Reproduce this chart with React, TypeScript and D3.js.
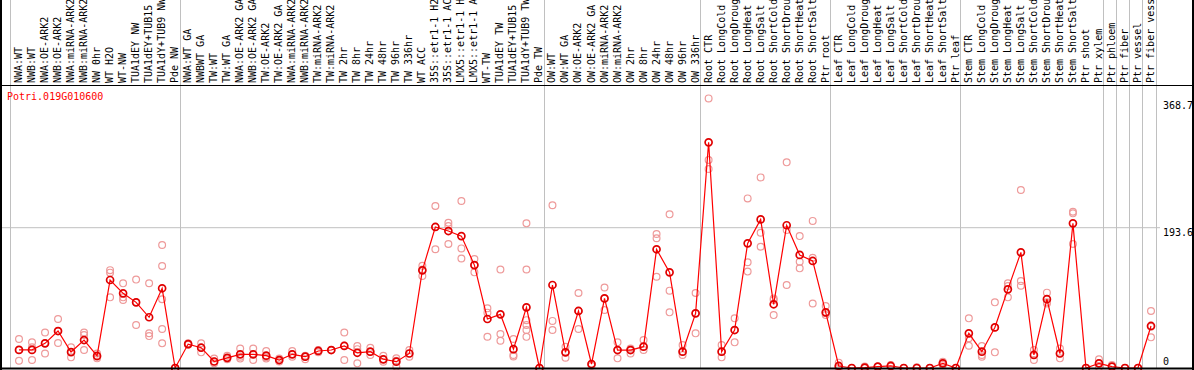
import React from "react";
import * as d3 from "d3";

const title = "Potri.019G010600";

const labels: string[] = [
  "NWA:WT", "NWB:WT", "NWA:OE-ARK2", "NWB:OE-ARK2", "NWA:miRNA-ARK2", "NWB:miRNA-ARK2", "NW 0hr", "WT H2O", "WT-NW", "TUA1dEY NW", "TUA1dEY+TUB15 NW", "TUA1dY+TUB9 NW", "Pde NW",
  "NWA:WT GA", "NWBWT GA", "TW:WT", "TW:WT GA", "NWA:OE-ARK2 GA", "NWB:OE-ARK2 GA", "TW:OE-ARK2", "TW:OE-ARK2 GA", "NWA:miRNA-ARK2", "NWB:miRNA-ARK2", "TW:miRNA-ARK2", "TW:miRNA-ARK2", "TW 2hr", "TW 8hr", "TW 24hr", "TW 48hr", "TW 96hr", "TW 336hr", "WT ACC", "35S::etr1-1 H2O", "35S::etr1-1 ACC", "LMX5::etr1-1 H2O", "LMX5::etr1-1 ACC", "WT-TW", "TUA1dEY TW", "TUA1dEY+TUB15 TW", "TUA1dY+TUB9 TW", "Pde TW",
  "OW:WT", "OW:WT GA", "OW:OE-ARK2", "OW:OE-ARK2 GA", "OW:miRNA-ARK2", "OW:miRNA-ARK2", "OW 2hr", "OW 8hr", "OW 24hr", "OW 48hr", "OW 96hr", "OW 336hr",
  "Root CTR", "Root LongCold", "Root LongDrought", "Root LongHeat", "Root LongSalt", "Root ShortCold", "Root ShortDrought", "Root ShortHeat", "Root ShortSalt", "Ptr root",
  "Leaf CTR", "Leaf LongCold", "Leaf LongDrought", "Leaf LongHeat", "Leaf LongSalt", "Leaf ShortCold", "Leaf ShortDrought", "Leaf ShortHeat", "Leaf ShortSalt", "Ptr leaf",
  "Stem CTR", "Stem LongCold", "Stem LongDrought", "Stem LongHeat", "Stem LongSalt", "Stem ShortCold", "Stem ShortDrought", "Stem ShortHeat", "Stem ShortSalt", "Ptr shoot", "Ptr xylem",
  "Ptr phloem", "Ptr fiber", "Ptr vessel", "Ptr fiber vessel",
];

// index of the last column of each group (separator drawn after it)
const groupEnds: number[] = [12, 40, 52, 62, 72, 83, 84, 85, 86, 87];

const means: number[] = [
  25, 25, 34, 51, 22, 38.6, 16.6, 121.4, 103, 90.6, 70, 110, 0,
  33, 28, 9, 14, 18.9, 18.9, 17, 11, 18.9, 15.6, 23.5, 24.8, 30.4, 21, 22.5, 12, 8.7, 20, 134.8, 194.6, 189, 182, 142, 67.6, 74, 26, 83.7, 0,
  114.5, 21.6, 78.7, 5.5, 96, 24.8, 24.8, 29.4, 163.8, 132, 22.5, 75.4,
  311.4, 22.5, 52.4, 172, 205, 87.9, 197, 156, 147.7, 76.8,
  2.8, 0, 0.5, 1.8, 2.8, 0, 0, 0, 6.4, 0,
  47.8, 22.5, 56, 108.5, 159.6, 18, 95, 20, 199.6, 0, 6.4, 1.8, 0, 0, 58,
];

const reps: number[][] = [
  [40, 25, 10], [35.4, 28.5, 11], [49, 34, 20], [67.6, 51, 34.5], [28.5, 22, 14.7], [49, 45.5, 24.8], [20, 15.6, 13.3], [135, 131.6, 97.5], [116.8, 97.5, 93.8], [122, 90.6, 59.3], [117, 48, 44], [169.7, 140.8, 94.8, 53.8, 34], [0, 0, 0],
  [34, 33, 32], [34, 28, 21.6], [13, 9, 6.4], [17, 14, 12], [27, 15.6, 13], [27, 18.9, 11], [23.5, 15, 13], [13, 11, 9], [23.5, 18.9, 15.6], [17, 15.6, 12], [25, 23.5, 21.6], [24.8, 24.8], [49, 31, 11], [30.4, 26, 6.4], [28, 22, 18], [17, 12, 8.7], [13.3, 10, 1.8], [24.8, 20, 15.6], [141, 136, 127], [223.5, 194.6, 163.8], [200.5, 196, 171], [230.4, 165, 151], [150.4, 142, 132], [82.3, 76.4, 43.2], [136, 47, 37.7], [40, 18, 16], [199.6, 136, 66, 59.3, 52.4, 43], [0, 0],
  [224.5, 65, 52.4], [29.4, 21.6, 14.3], [103.5, 78.7, 53.8], [5.5, 3], [111, 96, 80], [35.4, 24.8, 13.3], [27, 24.8, 20], [38.6, 29.4, 24.8], [185, 179, 126], [212, 106.7, 76.8], [31.7, 22.5, 18], [103.5, 75.4, 47.8],
  [372, 287, 274.6], [31.7, 22.5, 14.7], [68.5, 52.4, 35.4], [234, 146, 133], [263, 186.7, 167.4], [96, 93.8, 73], [283.8, 190.4, 114.5], [182, 146.7, 137.5], [203, 152, 89], [85.6, 75.4, 73],
  [7.4, 1, 0], [0, 0], [2, 0], [2, 1.5], [4, 2], [0, 0], [1, 0], [0, 0], [8.7, 6.4, 4], [0, 0],
  [68.5, 41, 30.8], [30.4, 18, 15.6], [90.6, 56, 21.6], [116.8, 113, 97.5], [245.6, 120, 113.6], [24.8, 18, 11], [104, 90.6, 89], [27, 20, 13.3], [215.7, 213.4, 171], [0, 0], [12, 6.4, 1], [4, 1.8], [0, 0], [0, 0], [78.7, 57, 42.3],
];

const tickValues: number[] = [368.7, 193.6, 0];
const tickLabels: string[] = ["368.7", "193.6", "0"];

const W = 1194;
const H = 370;
const FONT = "'DejaVu Sans Mono', monospace";

export default function App() {
  const n = labels.length;
  const x = d3.scaleLinear().domain([0, n - 1]).range([19, 1151]);
  const y = d3.scaleLinear().domain([0, 368.7]).range([368, 100.8]);
  const line = d3
    .line<number>()
    .x((_, i) => x(i))
    .y((d) => y(d));

  return (
    <>
      <style>{"body{margin:0;}"}</style>
      <svg width={W} height={H} style={{ display: "block", background: "#fff" }}>
        {/* gridline */}
        <line x1={1} x2={1160} y1={y(193.6)} y2={y(193.6)} stroke="#c0c0c0" strokeWidth={1} />
        {/* vertical separators */}
        <line x1={10.5} x2={10.5} y1={0} y2={368} stroke="#c0c0c0" strokeWidth={1} />
        {groupEnds.map((g) => (
          <line key={g} x1={Math.round(x(g) + 4.5) + 0.5} x2={Math.round(x(g) + 4.5) + 0.5} y1={0} y2={368} stroke="#c0c0c0" strokeWidth={1} />
        ))}
        {/* header labels */}
        {labels.map((l, i) => (
          <text
            key={i}
            transform={`translate(${x(i) + 3},83) rotate(-90)`}
            fontFamily={FONT}
            fontSize={10}
            fill="#000"
          >
            {l}
          </text>
        ))}
        <line x1={0} x2={W} y1={85.5} y2={85.5} stroke="#000" strokeWidth={1} />
        {/* title */}
        <text x={7} y={100} fontFamily={FONT} fontSize={10} fill="#ff0000">
          {title}
        </text>
        {/* replicate points */}
        {reps.map((arr, i) =>
          arr.map((v, j) => (
            <circle key={`${i}-${j}`} cx={x(i)} cy={y(v)} r={3.4} fill="none" stroke="#ee9a9a" strokeWidth={1.2} />
          ))
        )}
        {/* mean line */}
        <path d={line(means) || ""} fill="none" stroke="#ff0000" strokeWidth={1.2} />
        {means.map((v, i) => (
          <circle key={i} cx={x(i)} cy={y(v)} r={3.5} fill="none" stroke="#e00000" strokeWidth={1.7} />
        ))}
        {/* axis labels */}
        {tickValues.map((t, i) => (
          <text key={i} x={1163} y={Math.min(y(t) + 8.5, 365)} fontFamily={FONT} fontSize={10} fill="#000">
            {tickLabels[i]}
          </text>
        ))}
        {/* borders */}
        <line x1={1} x2={1} y1={0} y2={H} stroke="#000" strokeWidth={2} />
        <line x1={1193} x2={1193} y1={0} y2={H} stroke="#000" strokeWidth={2} />
        <line x1={0} x2={W} y1={368.5} y2={368.5} stroke="#000" strokeWidth={2} />
      </svg>
    </>
  );
}
